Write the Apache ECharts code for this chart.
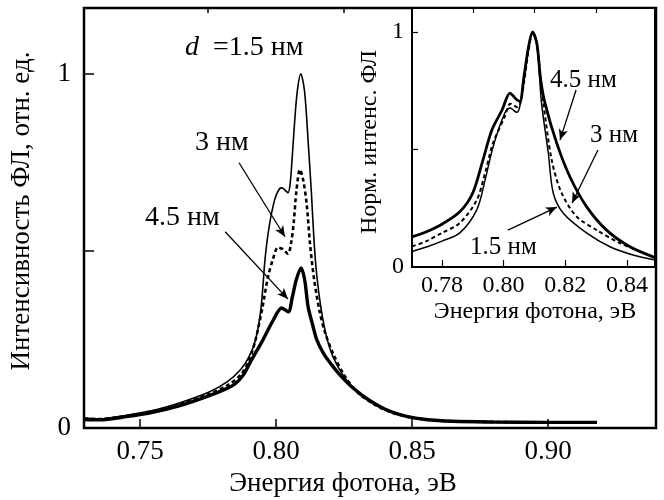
<!DOCTYPE html>
<html><head><meta charset="utf-8">
<script src="https://cdn.jsdelivr.net/npm/echarts@6/dist/echarts.min.js"></script>
<style>html,body{margin:0;padding:0;background:#fff}#c{width:664px;height:500px}</style>
</head><body><div id="c"></div>
<script>
// ---- Main panel data (absolute PL intensity) ----
const mainX15 = [0.7294,0.735,0.745,0.755,0.765,0.775,0.782,0.787,0.790,0.7925,0.7945,0.796,0.7975,0.7995,0.8012,0.8022,0.8033,0.8044,0.8052,0.8060,0.8068,0.8078,0.8091,0.8105,0.8118,0.8130,0.8140,0.8150,0.8165,0.8185,0.8210,0.8250,0.8300,0.8350,0.8410,0.8480,0.8550,0.8650,0.8800,0.9000,0.9180];
const mainY15 = [0.028,0.026,0.036,0.050,0.072,0.100,0.130,0.165,0.200,0.250,0.340,0.480,0.570,0.645,0.675,0.678,0.672,0.664,0.690,0.770,0.860,0.950,1.000,0.950,0.810,0.665,0.525,0.430,0.340,0.260,0.200,0.145,0.100,0.072,0.048,0.032,0.024,0.019,0.017,0.016,0.016];
const mainX30 = [0.7294,0.735,0.745,0.755,0.765,0.775,0.782,0.787,0.790,0.7925,0.795,0.797,0.7990,0.8007,0.8025,0.8044,0.8055,0.8065,0.8075,0.8088,0.8100,0.8113,0.8125,0.8140,0.8160,0.8180,0.8210,0.8250,0.8300,0.8350,0.8410,0.8480,0.8550,0.8650,0.8800,0.9000,0.9180];
const mainY30 = [0.026,0.025,0.034,0.048,0.068,0.095,0.120,0.150,0.190,0.250,0.340,0.425,0.480,0.510,0.505,0.492,0.520,0.580,0.670,0.730,0.700,0.630,0.520,0.420,0.330,0.270,0.210,0.150,0.100,0.072,0.048,0.032,0.024,0.019,0.017,0.016,0.016];
const mainX45 = [0.7294,0.735,0.745,0.755,0.765,0.775,0.782,0.785,0.788,0.7904,0.7952,0.7990,0.8021,0.8045,0.8060,0.8075,0.8092,0.8105,0.8118,0.8135,0.8150,0.8175,0.8199,0.8235,0.8280,0.8340,0.8410,0.8480,0.8550,0.8650,0.8800,0.9000,0.9180];
const mainY45 = [0.024,0.023,0.032,0.045,0.064,0.090,0.112,0.125,0.150,0.184,0.249,0.305,0.339,0.328,0.370,0.420,0.452,0.420,0.342,0.290,0.249,0.210,0.184,0.150,0.115,0.080,0.050,0.033,0.024,0.019,0.017,0.016,0.016];

// ---- Inset data (normalized) ----
const insX15 = [0.7703,0.775,0.780,0.7858,0.7913,0.794,0.7966,0.8004,0.8021,0.8043,0.8052,0.8065,0.8080,0.8094,0.8108,0.8123,0.8145,0.8161,0.8193,0.8269,0.8345,0.8420,0.8491];
const insY15 = [0.066,0.085,0.110,0.145,0.243,0.370,0.512,0.655,0.676,0.658,0.680,0.790,0.930,1.000,0.950,0.698,0.485,0.315,0.230,0.145,0.086,0.051,0.030];
const insX30 = [0.7703,0.775,0.780,0.7858,0.7913,0.794,0.7966,0.8004,0.8022,0.8045,0.8055,0.8068,0.8082,0.8095,0.8108,0.8120,0.8129,0.8156,0.8188,0.8237,0.8302,0.8377,0.8491];
const insY30 = [0.088,0.110,0.145,0.187,0.285,0.400,0.528,0.640,0.695,0.680,0.700,0.800,0.930,1.000,0.950,0.800,0.698,0.455,0.315,0.214,0.157,0.102,0.040];
const insX45 = [0.7703,0.775,0.780,0.7858,0.790,0.7933,0.7962,0.7995,0.8021,0.8040,0.8053,0.8065,0.8080,0.8094,0.8108,0.8120,0.8134,0.8172,0.8215,0.8269,0.8334,0.8410,0.8491];
const insY45 = [0.128,0.150,0.182,0.235,0.315,0.455,0.583,0.668,0.740,0.715,0.705,0.800,0.930,1.000,0.950,0.800,0.698,0.528,0.384,0.257,0.157,0.086,0.040];

// ---- Axis ticks / labels ----
const mainXMajor = [0.75,0.80,0.85,0.90];
const mainXMinor = [0.775,0.825,0.875,0.925];
const mainYTicks = [0.5,1];
const mainYLabels = [0,1];
const insXMajor = [0.78,0.80,0.82,0.84];
const insXMinor = [0.79,0.81,0.83];
const insYTicks = [0.5,1];
const insYLabels = [0,1];

// ---- Arrow annotations (data coordinates) ----
const mainArrows = [[[0.7864,0.749],[0.8033,0.540]],[[0.7813,0.554],[0.8044,0.364]]];
const insArrows = [[[0.8235,0.753],[0.8183,0.540]],[[0.8306,0.498],[0.8222,0.272]],[[0.8014,0.157],[0.8173,0.255]]];

const zip = (xs, ys) => xs.map((x, i) => [x, ys[i]]);
const F = 'Liberation Serif';
const arrowML = arr => ({
  silent: true, symbol: ['none', 'arrow'], symbolSize: [7, 11],
  lineStyle: { color: '#000', width: 1.3, type: 'solid' }, label: { show: false },
  animation: false,
  data: arr.map(a => [{ coord: a[0] }, { coord: a[1] }])
});

const chart = echarts.init(document.getElementById('c'), null, { renderer: 'canvas' });
const tickLbl = (fs) => ({ fontFamily: F, fontSize: fs, color: '#000' });

chart.setOption({
  animation: false,
  backgroundColor: '#fff',
  grid: [
    { left: 84, top: 8, width: 572, height: 420, show: true, borderColor: '#000', borderWidth: 2.5, backgroundColor: 'transparent' },
    { left: 412, top: 8, width: 243, height: 259, show: true, borderColor: '#000', borderWidth: 2, backgroundColor: '#fff', z: 5 }
  ],
  xAxis: [
    { type: 'value', gridIndex: 0, min: 0.7294, max: 0.9397, axisLine: { show: false }, splitLine: { show: false },
      axisTick: { inside: true, length: 9, lineStyle: { color: '#000', width: 1.5 }, customValues: mainXMajor },
      axisLabel: { ...tickLbl(27), margin: 10, customValues: mainXMajor, formatter: v => v.toFixed(2) } },
    { type: 'value', gridIndex: 0, min: 0.7294, max: 0.9397, axisLine: { show: false }, splitLine: { show: false },
      axisTick: { inside: true, length: 5, lineStyle: { color: '#000', width: 1.5 }, customValues: mainXMinor },
      axisLabel: { show: false } },
    { type: 'value', gridIndex: 1, min: 0.7703, max: 0.8491, axisLine: { show: false }, splitLine: { show: false }, z: 6,
      axisTick: { inside: true, length: 7, lineStyle: { color: '#000', width: 1.2 }, customValues: insXMajor },
      axisLabel: { ...tickLbl(24), margin: 7, customValues: insXMajor, formatter: v => v.toFixed(2) } },
    { type: 'value', gridIndex: 1, min: 0.7703, max: 0.8491, axisLine: { show: false }, splitLine: { show: false }, z: 6,
      axisTick: { inside: true, length: 5, lineStyle: { color: '#000', width: 1.2 }, customValues: insXMinor },
      axisLabel: { show: false } }
  ],
  yAxis: [
    { type: 'value', gridIndex: 0, min: 0, max: 1.186, axisLine: { show: false }, splitLine: { show: false },
      axisTick: { inside: true, length: 10, lineStyle: { color: '#000', width: 1.5 }, customValues: mainYTicks },
      axisLabel: { ...tickLbl(27), margin: 13, customValues: mainYLabels, formatter: v => String(v) } },
    { type: 'value', gridIndex: 1, min: 0, max: 1.102, axisLine: { show: false }, splitLine: { show: false }, z: 6,
      axisTick: { inside: true, length: 6, lineStyle: { color: '#000', width: 1.2 }, customValues: insYTicks },
      axisLabel: { ...tickLbl(24), margin: 8, customValues: insYLabels, formatter: v => String(v) } }
  ],
  series: [
    { type: 'line', xAxisIndex: 0, yAxisIndex: 0, data: zip(mainX15, mainY15), showSymbol: false, smooth: 0.3,
      lineStyle: { color: '#000', width: 1.6 }, markLine: arrowML(mainArrows) },
    { type: 'line', xAxisIndex: 0, yAxisIndex: 0, data: zip(mainX30, mainY30), showSymbol: false, smooth: 0.3,
      lineStyle: { color: '#000', width: 2.6, type: [4, 3] } },
    { type: 'line', xAxisIndex: 0, yAxisIndex: 0, data: zip(mainX45, mainY45), showSymbol: false, smooth: 0.3,
      lineStyle: { color: '#000', width: 3.4 } },
    { type: 'line', xAxisIndex: 2, yAxisIndex: 1, data: zip(insX15, insY15), showSymbol: false, smooth: 0.3, z: 7,
      lineStyle: { color: '#000', width: 1.5 }, markLine: arrowML(insArrows) },
    { type: 'line', xAxisIndex: 2, yAxisIndex: 1, data: zip(insX30, insY30), showSymbol: false, smooth: 0.3, z: 7,
      lineStyle: { color: '#000', width: 2, type: [4, 3] } },
    { type: 'line', xAxisIndex: 2, yAxisIndex: 1, data: zip(insX45, insY45), showSymbol: false, smooth: 0.3, z: 7,
      lineStyle: { color: '#000', width: 2.8 } }
  ],
  graphic: [
    { type: 'text', x: 343, y: 484, z: 100, style: { text: 'Энергия фотона, эВ', fontFamily: F, fontSize: 27, fill: '#000', align: 'center', verticalAlign: 'middle' } },
    { type: 'text', x: 22, y: 211, rotation: Math.PI / 2, z: 100, style: { text: 'Интенсивность ФЛ, отн. ед.', fontFamily: F, fontSize: 27, fill: '#000', align: 'center', verticalAlign: 'middle' } },
    { type: 'text', x: 535, y: 312, z: 100, style: { text: 'Энергия фотона, эВ', fontFamily: F, fontSize: 24, fill: '#000', align: 'center', verticalAlign: 'middle' } },
    { type: 'text', x: 370, y: 142, rotation: Math.PI / 2, z: 100, style: { text: 'Норм. интенс. ФЛ', fontFamily: F, fontSize: 24, fill: '#000', align: 'center', verticalAlign: 'middle' } },
    { type: 'text', x: 185, y: 48, z: 100, style: { text: '{i|d}  =1.5 нм', fontFamily: F, fontSize: 28, fill: '#000', verticalAlign: 'middle',
        rich: { i: { fontFamily: F, fontSize: 28, fontStyle: 'italic', fill: '#000' } } } },
    { type: 'text', x: 195, y: 143, z: 100, style: { text: '3 нм', fontFamily: F, fontSize: 28, fill: '#000', verticalAlign: 'middle' } },
    { type: 'text', x: 145, y: 218, z: 100, style: { text: '4.5 нм', fontFamily: F, fontSize: 28, fill: '#000', verticalAlign: 'middle' } },
    { type: 'text', x: 550, y: 80, z: 100, style: { text: '4.5 нм', fontFamily: F, fontSize: 25, fill: '#000', verticalAlign: 'middle' } },
    { type: 'text', x: 590, y: 135, z: 100, style: { text: '3 нм', fontFamily: F, fontSize: 25, fill: '#000', verticalAlign: 'middle' } },
    { type: 'text', x: 470, y: 247, z: 100, style: { text: '1.5 нм', fontFamily: F, fontSize: 25, fill: '#000', verticalAlign: 'middle' } }
  ]
});
</script></body></html>
